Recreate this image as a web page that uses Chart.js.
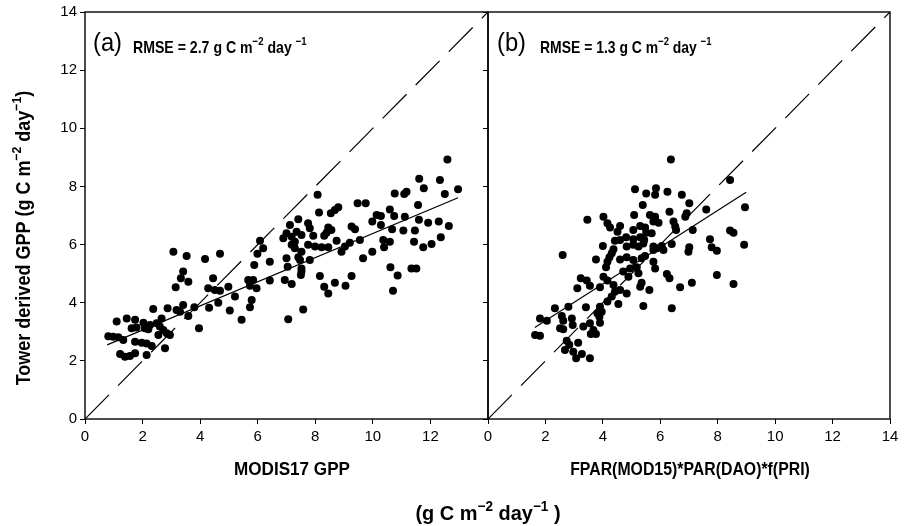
<!DOCTYPE html>
<html>
<head>
<meta charset="utf-8">
<script src="https://cdn.jsdelivr.net/npm/chart.js@4.4.1/dist/chart.umd.min.js"></script>
<style>
  html, body { margin: 0; padding: 0; background: #fff; }
  #wrap { position: relative; width: 906px; height: 526px; }
  canvas { position: absolute; top: 0; }
  #leftChart { left: 0; width: 906px; height: 526px; }
  #rightChart { left: 476px; width: 430px; height: 526px; }
</style>
</head>
<body>
<div id="wrap">
  <canvas id="leftChart" width="906" height="526"></canvas>
  <canvas id="rightChart" width="430" height="526"></canvas>
</div>
<script>
'use strict';

// axis ticks (both panels, both axes)
const axisTicks = [0, 2, 4, 6, 8, 10, 12, 14];

// panel (a): MODIS17 GPP vs tower GPP  [x, y]
const modisVsTower = [
  [3.07,5.75],[3.53,5.61],[4.17,5.5],[3.41,5.07],[3.33,4.84],[3.59,4.72],[3.15,4.53],[2.37,3.78],
  [2.87,3.81],[3.18,3.75],[3.41,3.92],[3.30,3.69],[3.80,3.84],[3.59,3.54],[3.96,3.12],[1.10,3.35],
  [1.45,3.46],[1.74,3.41],[2.03,3.31],[2.26,3.23],[2.49,3.29],[2.66,3.46],[2.60,3.18],[1.62,3.12],
  [1.79,3.15],[2.08,3.12],[2.20,3.09],[2.72,3.06],[2.84,2.95],[2.55,2.89],[2.95,2.89],[0.81,2.85],
  [0.98,2.83],[1.16,2.81],[1.33,2.72],[1.74,2.66],[1.97,2.62],[2.14,2.60],[2.32,2.51],[2.78,2.43],
  [1.22,2.24],[1.39,2.14],[1.56,2.17],[1.74,2.26],[2.14,2.20],
  [7.41,6.87],[7.12,6.67],[7.35,6.44],[7.0,6.39],[6.89,6.22],[7.18,6.27],[7.29,6.10],[7.18,5.99],
  [7.29,5.87],[7.52,5.75],[6.08,6.13],[6.19,5.87],[5.99,5.68],[6.42,5.41],[5.88,5.30],[7.0,5.53],
  [7.41,5.56],[7.52,5.18],[7.04,5.24],[4.69,5.68],[4.45,4.84],[4.28,4.50],[4.51,4.44],[4.69,4.41],
  [4.98,4.55],[5.21,4.21],[5.67,4.78],[5.84,4.78],[5.96,4.50],[5.73,4.58],[6.42,4.76],[6.94,4.78],
  [7.18,4.64],[7.52,5.07],[4.31,3.83],[4.63,4.0],[5.03,3.73],[5.79,4.09],[5.73,3.84],[5.44,3.41],
  [7.06,3.43],[7.58,3.77],
  [8.08,7.71],[8.13,7.10],[8.54,7.08],[8.68,7.19],[8.80,7.28],[9.47,7.42],[9.75,7.42],[10.13,7.02],
  [10.28,6.98],[7.75,6.73],[7.81,6.56],[8.45,6.59],[8.56,6.50],[8.39,6.41],[8.31,6.30],[9.26,6.62],
  [9.38,6.53],[9.98,6.79],[10.28,6.67],[7.93,6.30],[7.52,6.33],[8.74,6.13],[7.75,5.99],[7.99,5.93],
  [8.22,5.91],[8.45,5.91],[9.03,5.93],[9.20,6.06],[8.91,5.75],[9.55,6.16],[7.47,5.47],[7.81,5.47],
  [10.36,6.16],[9.98,5.75],[9.66,5.53],[7.50,4.95],[8.16,4.92],[9.26,4.92],[8.31,4.55],[8.45,4.32],
  [8.68,4.69],[9.05,4.58],
  [12.59,8.93],[11.61,8.26],[12.33,8.22],[11.77,7.94],[10.76,7.76],[11.09,7.74],[11.17,7.82],[12.50,7.74],
  [12.96,7.90],[11.57,7.36],[10.59,7.21],[10.74,6.98],[11.11,6.96],[10.67,6.53],[11.06,6.48],[11.46,6.48],
  [11.60,6.85],[11.92,6.75],[12.29,6.79],[12.64,6.64],[10.59,6.10],[10.39,5.91],[11.43,6.10],[11.75,5.91],
  [12.04,6.02],[12.36,6.25],[10.61,5.22],[10.86,4.94],[11.34,5.18],[11.51,5.18],[10.70,4.41]
];

// panel (b): FPAR*PAR*f(PRI) vs tower GPP  [x, y]
const priVsTower = [
  [3.46,6.85],[4.02,6.96],[4.16,6.73],[4.25,6.59],[4.60,6.64],[4.51,6.44],[4.42,6.13],[4.60,6.16],
  [4.81,6.25],[4.00,5.95],[4.37,5.84],[4.31,5.70],[4.83,5.93],[2.60,5.64],[3.76,5.49],[4.23,5.56],
  [4.16,5.41],[4.11,5.22],[4.02,4.89],[4.16,4.76],[4.71,5.07],[4.89,4.89],[3.23,4.84],[3.44,4.76],
  [3.55,4.58],[3.11,4.50],[3.90,4.53],[4.37,4.61],[4.42,4.38],[4.31,4.21],[4.60,4.44],[4.83,4.32],
  [4.54,3.96],[4.16,4.04],[3.90,3.86],[3.81,3.64],[3.96,3.69],[3.88,3.52],[3.41,3.84],[2.80,3.86],
  [2.33,3.81],[2.57,3.54],[2.62,3.38],[2.92,3.46],[2.95,3.23],[1.81,3.46],[2.05,3.38],[2.51,3.12],
  [2.62,3.09],[3.32,3.18],[3.55,3.29],[3.67,3.06],[3.90,3.31],[3.58,2.92],[3.76,2.92],[1.64,2.89],
  [1.81,2.86],[2.74,2.69],[2.83,2.55],[3.14,2.62],[2.68,2.37],[2.97,2.31],[3.07,2.09],[3.27,2.24],
  [3.55,2.09],
  [6.37,8.93],[8.43,8.22],[5.12,7.90],[5.51,7.76],[5.85,7.94],[5.82,7.71],[6.25,7.82],[6.75,7.71],
  [5.39,7.36],[7.01,7.42],[6.32,7.13],[6.92,7.08],[6.87,6.96],[7.60,7.21],[8.95,7.28],[5.09,7.02],
  [5.64,7.02],[5.82,6.96],[5.76,6.79],[5.94,6.75],[6.46,6.79],[6.52,6.62],[5.06,6.50],[5.30,6.64],
  [5.47,6.59],[5.51,6.41],[5.70,6.39],[7.13,6.50],[6.55,6.50],[8.43,6.48],[8.55,6.41],[5.06,6.18],
  [5.30,6.25],[5.44,6.16],[5.06,5.99],[5.24,5.93],[5.41,6.04],[5.76,5.93],[5.88,5.87],[6.05,5.95],
  [6.11,5.81],[5.76,5.81],[6.40,6.02],[7.01,5.91],[6.98,5.75],[7.73,6.18],[7.79,5.91],[7.97,5.79],
  [8.92,5.99],[4.60,5.49],[4.83,5.56],[5.06,5.47],[5.35,5.53],[5.47,5.61],[5.76,5.41],[5.82,5.18],
  [4.95,5.18],[5.18,5.22],[5.24,5.01],[5.35,4.69],[5.30,4.55],[5.62,4.44],[6.23,4.99],[6.32,4.84],
  [6.69,4.53],[7.10,4.69],[7.97,4.95],[8.55,4.64],[5.41,3.89],[6.40,3.81]
];

// fitted regression lines (end points) and the 1:1 line
const fitA = [[0.77, 2.55], [12.96, 7.61]];
const fitB = [[1.63, 3.15], [8.99, 7.80]];
const oneToOne = [[0, 0], [14, 14]];

const rmseA = '2.7';
const rmseB = '1.3';

const FONT = "'Liberation Sans Narrow', 'Arial Narrow', 'Liberation Sans', Arial, sans-serif";
Chart.defaults.font.family = FONT;
Chart.defaults.color = '#000';

function toXY(pairs) {
  return pairs.map(function (p) { return { x: p[0], y: p[1] }; });
}

// draw a run of text with superscript pieces; sx squeezes it horizontally
function richText(ctx, parts, x, y, align, size, weight, sx) {
  sx = sx || 1;
  var total = 0;
  parts.forEach(function (p) {
    ctx.font = weight + ' ' + (p.sup ? size * 0.68 : size) + 'px ' + FONT;
    p.w = ctx.measureText(p.t).width;
    total += p.w;
  });
  ctx.save();
  ctx.translate(x, y);
  ctx.scale(sx, 1);
  var cx = align === 'center' ? -total / 2 : 0;
  ctx.textAlign = 'left';
  ctx.textBaseline = 'alphabetic';
  ctx.fillStyle = '#000';
  parts.forEach(function (p) {
    ctx.font = weight + ' ' + (p.sup ? size * 0.68 : size) + 'px ' + FONT;
    ctx.fillText(p.t, cx, p.sup ? -size * 0.45 : 0);
    cx += p.w;
  });
  ctx.restore();
}

function rmseParts(v) {
  return [{ t: 'RMSE = ' + v + ' g C m' }, { t: '\u22122', sup: true }, { t: ' day ' }, { t: '\u22121', sup: true }];
}

function datasets(points, fit) {
  return [
    { data: toXY(points), backgroundColor: '#000', borderWidth: 0, pointRadius: 4, pointHoverRadius: 4 },
    { data: toXY(fit), showLine: true, borderColor: '#000', borderWidth: 1.2, pointRadius: 0 },
    { data: toXY(oneToOne), showLine: true, borderColor: '#000', borderWidth: 1.2, borderDash: [34, 13], pointRadius: 0 }
  ];
}

function frameAndText(drawText) {
  return {
    id: 'frameAndText',
    afterDraw: function (chart) {
      var ctx = chart.ctx, a = chart.chartArea;
      ctx.save();
      ctx.strokeStyle = '#000';
      ctx.lineWidth = 1.4;
      ctx.strokeRect(a.left, a.top, a.right - a.left, a.bottom - a.top);
      drawText(ctx, a);
      ctx.restore();
    }
  };
}

function xScale(hideLast) {
  return {
    type: 'linear', min: 0, max: 14,
    afterBuildTicks: function (s) { s.ticks = axisTicks.map(function (v) { return { value: v }; }); },
    afterFit: function (s) { s.height = 107; },
    border: { display: false },
    grid: { drawOnChartArea: false, drawTicks: true, tickLength: 5, color: '#000', lineWidth: 1 },
    ticks: {
      padding: 4, font: { size: 15 }, color: '#000', maxRotation: 0,
      callback: function (v) { return hideLast && v === 14 ? '' : v; }
    }
  };
}

function yScale(showLabels, width) {
  return {
    type: 'linear', min: 0, max: 14,
    afterBuildTicks: function (s) { s.ticks = axisTicks.map(function (v) { return { value: v }; }); },
    afterFit: function (s) { s.width = width; },
    border: { display: false },
    grid: { drawOnChartArea: false, drawTicks: true, tickLength: 5, color: '#000', lineWidth: 1 },
    ticks: { display: showLabels, padding: 3, font: { size: 15 }, color: '#000' }
  };
}

var common = {
  responsive: false,
  animation: false,
  devicePixelRatio: 1,
  plugins: { legend: { display: false }, tooltip: { enabled: false } }
};

// left panel (a) + shared y title + shared unit line
new Chart(document.getElementById('leftChart').getContext('2d'), {
  type: 'scatter',
  data: { datasets: datasets(modisVsTower, fitA) },
  options: Object.assign({}, common, {
    layout: { padding: { left: 0, top: 12, right: 418, bottom: 0 } },
    scales: { x: xScale(true), y: yScale(true, 85) }
  }),
  plugins: [frameAndText(function (ctx, a) {
    ctx.save();
    ctx.translate(30, 238);
    ctx.rotate(-Math.PI / 2);
    richText(ctx, [{ t: 'Tower derived GPP (g C m' }, { t: '\u22122', sup: true }, { t: ' day' }, { t: '\u22121', sup: true }, { t: ')' }], 0, 0, 'center', 20, 'bold', 0.9);
    ctx.restore();
    richText(ctx, [{ t: 'MODIS17 GPP' }], 292, 475, 'center', 19, 'bold', 0.9);
    richText(ctx, [{ t: '(g C m' }, { t: '\u22122', sup: true }, { t: ' day' }, { t: '\u22121', sup: true }, { t: ' )' }], 488, 520, 'center', 21, 'bold', 0.95);
    richText(ctx, [{ t: '(a)' }], a.left + 8, 51, 'left', 25, 'normal', 0.95);
    richText(ctx, rmseParts(rmseA), a.left + 48, 53, 'left', 17, 'bold', 0.83);
  })]
});

// right panel (b)
new Chart(document.getElementById('rightChart').getContext('2d'), {
  type: 'scatter',
  data: { datasets: datasets(priVsTower, fitB) },
  options: Object.assign({}, common, {
    layout: { padding: { left: 0, top: 12, right: 16, bottom: 0 } },
    scales: { x: xScale(false), y: yScale(false, 12) }
  }),
  plugins: [frameAndText(function (ctx, a) {
    richText(ctx, [{ t: 'FPAR(MOD15)*PAR(DAO)*f(PRI)' }], 690 - 476, 475, 'center', 18, 'bold', 0.88);
    richText(ctx, [{ t: '(b)' }], a.left + 9, 51, 'left', 25, 'normal', 0.95);
    richText(ctx, rmseParts(rmseB), a.left + 52, 53, 'left', 17, 'bold', 0.82);
  })]
});
</script>
</body>
</html>
